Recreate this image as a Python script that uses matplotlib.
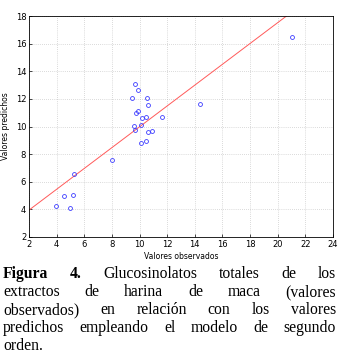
import numpy as np
from matplotlib import pyplot as plt

observados = [21.06, 14.39, 11.64, 9.66, 9.92, 9.42, 10.55, 10.63, 9.86, 9.76,
              10.19, 10.46, 9.61, 9.66, 10.10, 10.63, 10.92, 10.12, 10.46, 7.98,
              5.23, 4.53, 5.20, 3.98, 4.96]
predichos = [16.45, 11.63, 10.66, 13.05, 12.62, 12.09, 12.09, 11.56, 11.12, 10.95,
             10.59, 10.66, 10.01, 9.75, 10.08, 9.58, 9.67, 8.78, 8.95, 7.55,
             6.56, 4.97, 5.04, 4.24, 4.08]
fit_intercept = 2.44
fit_slope = 0.754

x_ticks = list(range(2, 26, 2))
y_ticks = list(range(2, 20, 2))

caption_lines = [
    ["Figura", "4.", "Glucosinolatos", "totales", "de", "los"],
    ["extractos", "de", "harina", "de", "maca", "(valores"],
    ["observados)", "en", "relación", "con", "los", "valores"],
    ["predichos", "empleando", "el", "modelo", "de", "segundo"],
    ["orden."],
]
bold_words = {(0, 0), (0, 1)}

W, H = 352, 364
fig = plt.figure(figsize=(W / 100, H / 100), dpi=100)
ax = fig.add_axes([29 / W, 1 - 237 / H, (333 - 29) / W, (237 - 16) / H])

xs = np.array([2, 24])
ax.plot(xs, fit_intercept + fit_slope * xs, color="#ff5a5a", lw=0.7, zorder=2)
ax.plot(observados, predichos, "o", ms=2.8, mfc="none", mec="#3c3cff", mew=0.6, zorder=3)

ax.set_xlim(2, 24)
ax.set_ylim(2, 18)
ax.set_xticks(x_ticks)
ax.set_yticks(y_ticks)
ax.tick_params(direction="in", length=2, width=0.5, labelsize=6, pad=2)
ax.grid(True, linestyle=(0, (1, 2)), color="#b8b8b8", lw=0.5)
for s in ax.spines.values():
    s.set_linewidth(0.6)
ax.set_xlabel("Valores observados", fontsize=5.5, labelpad=2)
ax.set_ylabel("Valores predichos", fontsize=5.5, labelpad=4)

# justified caption
renderer = fig.canvas.get_renderer()
left, right = 3, 336
baselines = [278, 296.5, 314.5, 332.5, 350.5]
for i, words in enumerate(caption_lines):
    texts = []
    for j, w in enumerate(words):
        t = fig.text(0, 0, w, fontsize=11.3, family="Liberation Serif",
                     fontweight="bold" if (i, j) in bold_words else "normal",
                     ha="left", va="baseline", transform=None)
        texts.append(t)
    widths = [t.get_window_extent(renderer).width for t in texts]
    if len(words) > 1 and i < len(caption_lines) - 1:
        gap = (right - left - sum(widths)) / (len(words) - 1)
    else:
        gap = 4
    x = left
    for t, w in zip(texts, widths):
        t.set_position((x, H - baselines[i]))
        x += w + gap

fig.savefig("out.png", dpi=100)
